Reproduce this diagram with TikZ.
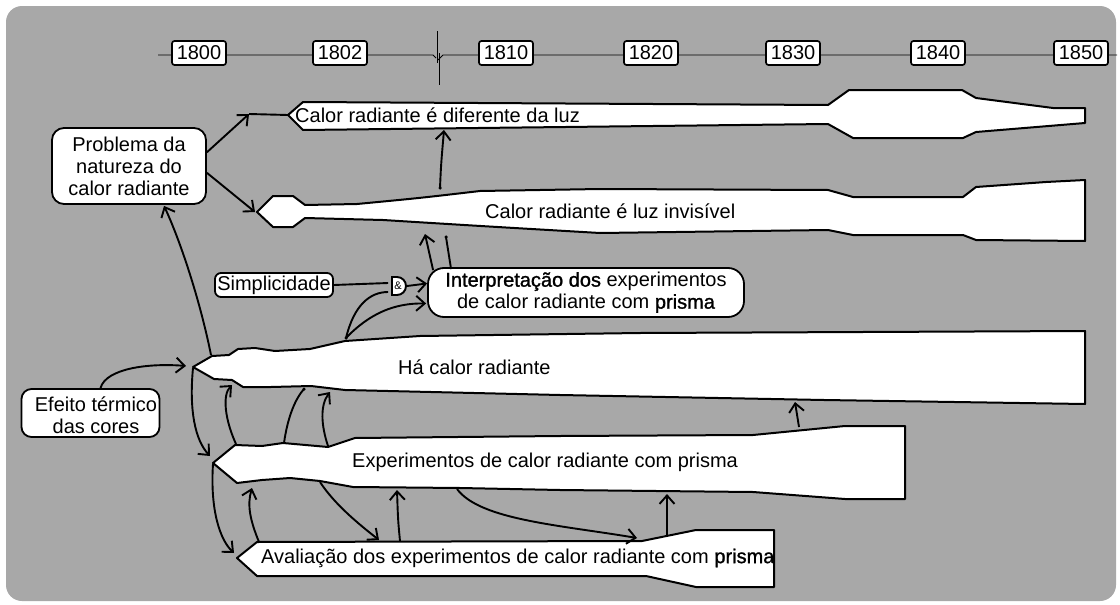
\documentclass[tikz,border=0pt]{standalone}
\usepackage{fontspec}
\setmainfont{Liberation Sans}
\newfontfamily\semib[FakeBold=1.2]{Liberation Sans}
\usetikzlibrary{arrows.meta,calc}
\definecolor{bggray}{RGB}{168,168,168}
\begin{document}
\begin{tikzpicture}[x=1pt,y=-1pt,
  txt/.style={font=\fontsize{20}{21}\selectfont,inner sep=0pt},
  bar/.style={draw=black,fill=white,line width=2pt,line join=round},
  box/.style={draw=black,fill=white,line width=1.8pt,align=center,font=\fontsize{20}{22}\selectfont,inner sep=0pt},
  yr/.style={draw=black,fill=white,line width=1.7pt,rounded corners=2.5pt,minimum width=54,minimum height=24,inner sep=0pt,font=\fontsize{20}{20}\selectfont},
  arr/.style={line width=1.9pt,-{Straight Barb[length=8.5pt,width=15pt,line width=1.9pt]}},
  ln/.style={line width=1.9pt},
  dot/.style={circle,fill=black,inner sep=0pt,minimum size=3.5pt}
]
\useasboundingbox (0,0) rectangle (1120,605);
\fill[white] (0,0) rectangle (1120,605);
\fill[bggray,rounded corners=16pt] (6,6) rectangle (1116,601);

% ---------- timeline ----------
\draw[line width=0.9pt] (158,55) -- (433,55) -- (436,58);
\draw[line width=0.9pt] (437,31) -- (437,63);
\draw[line width=0.9pt] (439,53) -- (439,85);
\draw[line width=0.9pt] (438,60) -- (443,55) -- (1117,55);
\node[yr] (y1800) at (199,53) {1800};
\node[yr] (y1802) at (340,53) {1802};
\node[yr] (y1810) at (506,53) {1810};
\node[yr] (y1820) at (651,53) {1820};
\node[yr] (y1830) at (793,53) {1830};
\node[yr] (y1840) at (938,53) {1840};
\node[yr] (y1850) at (1081,53) {1850};

% ---------- bars ----------
% bar 1
\draw[bar] (303,102) -- (828,105) -- (849,90) -- (962,90) -- (976,98) -- (1053,108) -- (1085,108)
  -- (1085,123) -- (976,132) -- (963,138) -- (853,138) -- (828,124) -- (303,130) -- (288,115) -- cycle;
% bar 2
\draw[bar] (257,212) -- (273,196) -- (293,196) -- (305,205) -- (357,204) .. controls (420,198) .. (480,191)
  -- (600,189) -- (828,190) -- (853,197) -- (963,197) -- (976,187) -- (1046,182) -- (1085,180)
  -- (1085,241) -- (976,240) -- (963,235) -- (853,235) -- (828,230) -- (600,233)
  .. controls (480,226) .. (383,220) -- (305,218) -- (293,227) -- (273,227) -- cycle;
% bar 3
\draw[bar] (193,367) -- (212,356) -- (229,355) -- (238,349) -- (255,348) -- (275,351) -- (310,349)
  -- (345,341) -- (420,336) -- (640,333) -- (1085,331) -- (1085,404) -- (824,400) -- (560,395)
  -- (345,390) -- (311,386) -- (271,387) -- (243,387) -- (232,380) -- (214,379) -- cycle;
% bar 4
\draw[bar] (213,463) -- (235,445) -- (262,446) -- (283,443) -- (328,447) -- (355,438) -- (560,436)
  -- (753,435) -- (845,426) -- (905,426) -- (905,499) -- (845,499) -- (753,492) -- (560,490)
  -- (460,488) -- (353,487) -- (320,481) -- (290,478) -- (262,480) -- (237,483) -- cycle;
% bar 5
\draw[bar] (237,558) -- (257,542) -- (642,541) -- (696,530) -- (774,530) -- (774,587)
  -- (696,587) -- (646,576) -- (257,576) -- cycle;

% bar texts
\node[txt,anchor=west] (t1) at (295,115) {Calor radiante é diferente da luz};
\node[txt,anchor=west] (t2) at (485,211) {Calor radiante é luz invisível};
\node[txt,anchor=west] (t3) at (398,367) {Há calor radiante};
\node[txt,anchor=west] (t4) at (352,462) {Experimentos de calor radiante com prisma};
\node[txt,anchor=west] (t5) at (261,558) {Avaliação dos experimentos de calor radiante com {\semib prisma}};

% bar connection points
\coordinate (b1s) at (249,114);
\coordinate (b1tip) at (288,115);
\coordinate (b1bot) at (444,130);
\coordinate (b2tip) at (255,212);
\coordinate (b2top) at (440,188);
\coordinate (b2botA) at (425,234);
\coordinate (b2botB) at (446,237);
\coordinate (b3tip) at (193,368);
\coordinate (b3tipin) at (186,366);
\coordinate (b3topA) at (211,355);
\coordinate (b3topB) at (346,338);
\coordinate (b3botA) at (232,385);
\coordinate (b3botB) at (304,389);
\coordinate (b3botC) at (330,392);
\coordinate (b3botD) at (795,402);
\coordinate (b4tip) at (213,464);
\coordinate (b4tipin) at (210,456);
\coordinate (b4topA) at (236,444);
\coordinate (b4topB) at (284,443);
\coordinate (b4topC) at (328,446);
\coordinate (b4topD) at (799,427);
\coordinate (b4botA) at (252,488);
\coordinate (b4botB) at (320,482);
\coordinate (b4botC) at (397,490);
\coordinate (b4botD) at (457,489);
\coordinate (b4botE) at (667,494);
\coordinate (b5tipin) at (234,553);
\coordinate (b5topA) at (259,542);
\coordinate (b5topB) at (379,540);
\coordinate (b5topC) at (400,541);
\coordinate (b5topD) at (637,538);
\coordinate (b5topE) at (667,535);

% ---------- boxes ----------
\node[box,rounded corners=12pt,minimum width=154,minimum height=76] (prob) at (129,166)
  {Problema da\\natureza do\\calor radiante};
\node[box,rounded corners=10pt,minimum width=138,minimum height=48] (efeito) at (90.5,413) {};
\node[txt,align=center,font=\fontsize{20}{22}\selectfont] (efeitotxt) at (96,415) {Efeito térmico\\das cores};
\node[box,rounded corners=6pt,minimum width=118,minimum height=24] (simp) at (274,285) {Simplicidade};
\node[box,rounded corners=16pt,minimum width=316,minimum height=49] (interp) at (586,292.5)
  {{\semib Interpretação dos} experimentos\\de calor radiante com {\semib prisma}};
% AND gate
\draw[ln,fill=white] (392,277) -- (397,277) arc[start angle=-90,end angle=90,radius=9] -- (392,295) -- cycle;
\node[inner sep=0pt,font=\fontsize{11}{11}\selectfont] (gate) at (398,286) {\&};

% ---------- connectors ----------
\draw[arr] (prob.10) -- (b1s);
\draw[ln] (b1s) -- (b1tip);
\draw[arr] (prob.-5) -- (b2tip);
\draw[arr] (b2top) .. controls (441,165) .. (b1bot);
\node[dot] at (b2top) {};
\draw[arr] ($(interp.north west)+(6,3)$) -- (b2botA);
\draw[ln] ($(interp.north west)+(24,2)$) -- (b2botB);
\node[dot] at (b2botB) {};
\draw[ln] (simp.east) -- ($(gate.west)+(-6,-3)$);
\draw[arr] ($(gate.east)+(5,0)$) -- ($(interp.west)+(0,-9)$);
\draw[ln] (b3topB) .. controls (354,305) and (370,292) .. ($(gate.west)+(-6,6)$);
\draw[arr] (b3topB) .. controls (370,313) and (395,303) .. ($(interp.west)+(-1,11)$);
\node[dot] at (b3topB) {};
\draw[arr] (b3topA) .. controls (200,300) and (180,240) .. ($(prob.south)+(35,1)$);
\draw[arr] ($(efeito.north)+(10,0)$) .. controls (106,368) and (150,363) .. (b3tipin);
\draw[arr] (b3tip) .. controls (189,410) and (195,440) .. (b4tipin);
\draw[arr] (b4tip) .. controls (210,510) and (220,540) .. (b5tipin);
\draw[arr] (b4topA) .. controls (225,420) and (222,395) .. (b3botA);
\draw[ln] (b4topB) .. controls (288,415) and (296,398) .. (b3botB);
\node[dot] at (b3botB) {};
\draw[arr] (b4topC) .. controls (321,425) and (320,405) .. (b3botC);
\draw[arr] (b5topA) .. controls (250,520) and (247,505) .. (b4botA);
\draw[arr] (b4botB) .. controls (335,505) and (360,525) .. (b5topB);
\draw[arr] (b5topC) .. controls (398,520) .. (b4botC);
\draw[arr] (b4botD) .. controls (480,520) and (560,525) .. (b5topD);
\draw[arr] (b5topE) -- (b4botE);
\draw[arr] (b4topD) -- (b3botD);
\end{tikzpicture}
\end{document}
